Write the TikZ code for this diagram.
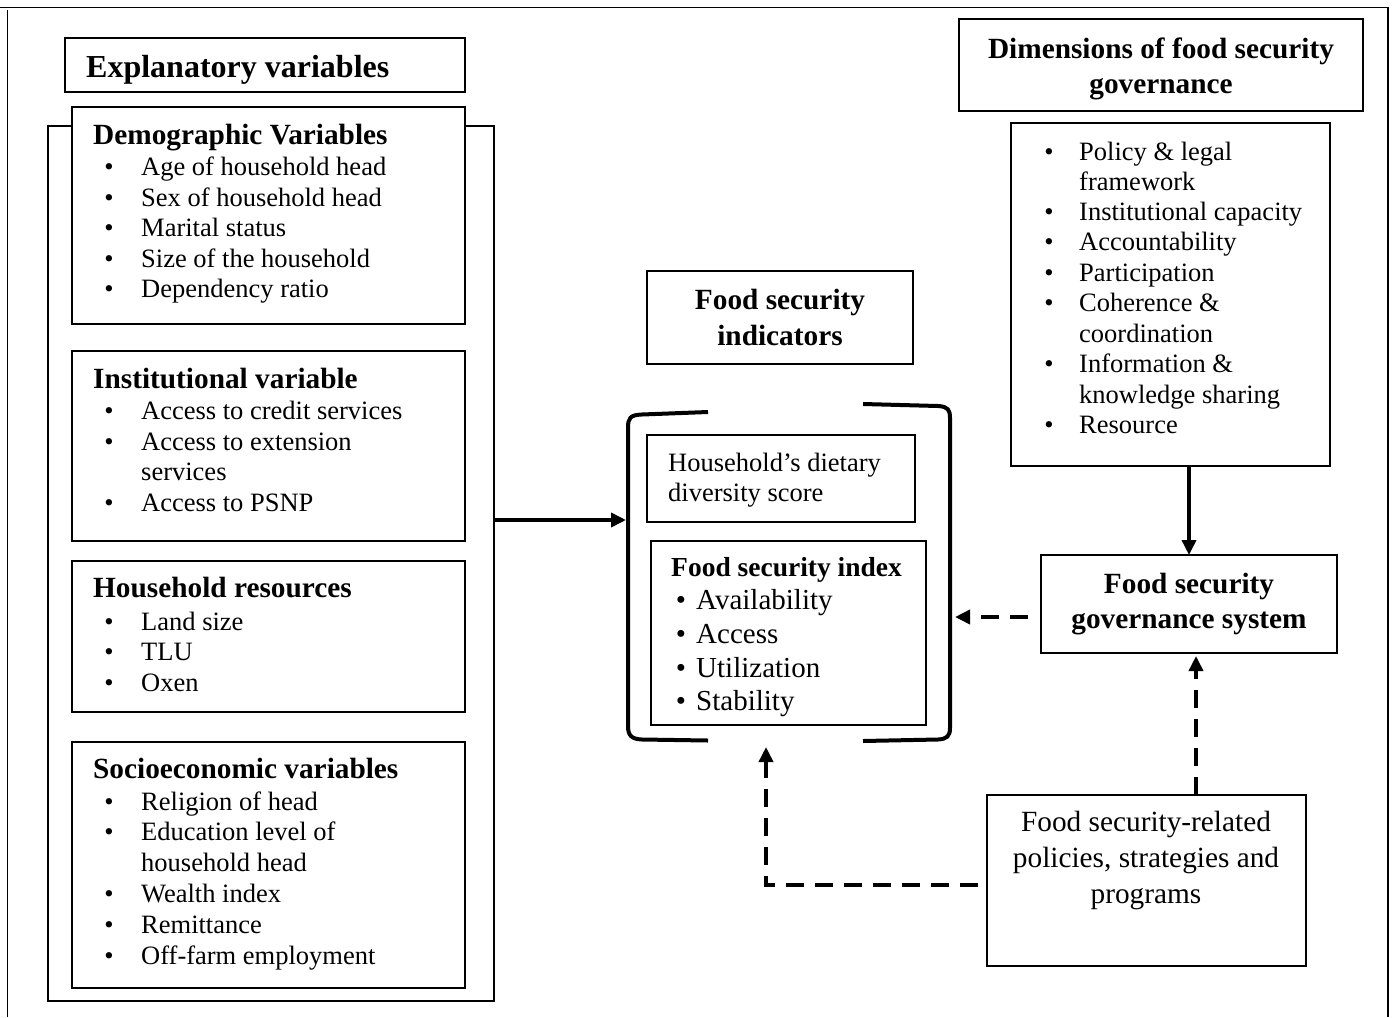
\documentclass[tikz,border=0pt]{standalone}
\usepackage{fontspec}
\setmainfont{Liberation Serif}
\usetikzlibrary{arrows.meta}
\newcommand\fsz[1]{\fontsize{#1pt}{#1pt}\selectfont}
\newcommand\bx[6][]{\node[box,#1,minimum width={(#5-#3)*1pt},minimum height={(#6-#4)*1pt}] (#2) at (#3,#4) {};}
\begin{document}
\begin{tikzpicture}[x=1pt,y=-1pt,
 box/.style={draw, fill=white, anchor=north west, inner sep=0pt, outer sep=0pt, line width=1.5pt},
 thickbox/.style={line width=2.3pt},
 itm/.style={anchor=base west, inner sep=0pt, font=\fsz{26.5}},
 bul/.style={anchor=base, inner sep=0pt, font=\fsz{26.5}},
 hd/.style={anchor=base west, inner sep=0pt, font=\fsz{29.3}\bfseries},
 ctrb/.style={anchor=base, inner sep=0pt, font=\fsz{29.3}\bfseries},
 ctr/.style={anchor=base, inner sep=0pt, font=\fsz{29.3}},
 arr/.style={line width=3.6pt, -{Triangle[length=15pt,width=14pt]}},
 darr/.style={arr, dash pattern=on 18pt off 11pt},
]
\useasboundingbox (0,0) rectangle (1396,1017);
% outer frame
\draw[line width=1.6pt] (0,7.5) -- (1388,7.5) -- (1388,1017);
\draw[line width=1.6pt] (7.5,10) -- (7.5,1017);

% left column
\bx{expl}{65}{38}{465}{92}
\node[anchor=base west, inner sep=0pt, font=\fsz{32}\bfseries] (explt) at (86,77) {Explanatory variables};
\bx{cont}{48}{126}{494}{1001}
\bx[thickbox]{demo}{72}{107}{465}{324}
\bx[thickbox]{inst}{72}{351}{465}{541}
\bx{res}{72}{561}{465}{712}
\bx[line width=1.8pt]{socio}{72}{742}{465}{988}

\node[hd] (demoh) at (93,144) {Demographic Variables};
\foreach \y/\t [count=\i] in {175/Age of household head, 206/Sex of household head, 236/Marital status, 267/Size of the household, 297/Dependency ratio}{
  \node[bul] (demob\i) at (109,\y) {\textbullet};
  \node[itm] (demot\i) at (141,\y) {\t};
}
\node[hd] (insth) at (93,388) {Institutional variable};
\foreach \y/\t [count=\i] in {419/Access to credit services, 450/Access to extension, 511/Access to PSNP}{
  \node[bul] (instb\i) at (109,\y) {\textbullet};
  \node[itm] (instt\i) at (141,\y) {\t};
}
\node[itm] (instc) at (141,480) {services};
\node[hd] (resh) at (93,597) {Household resources};
\foreach \y/\t [count=\i] in {630/Land size, 660/TLU, 691/Oxen}{
  \node[bul] (resb\i) at (109,\y) {\textbullet};
  \node[itm] (rest\i) at (141,\y) {\t};
}
\node[hd] (socioh) at (93,778) {Socioeconomic variables};
\foreach \y/\t [count=\i] in {810/Religion of head, 840/Education level of, 902/Wealth index, 933/Remittance, 964/Off-farm employment}{
  \node[bul] (sociob\i) at (109,\y) {\textbullet};
  \node[itm] (sociot\i) at (141,\y) {\t};
}
\node[itm] (socioc) at (141,871) {household head};

% centre
\bx{ind}{647}{271}{913}{364}
\node[ctrb] (ind1) at (780,309) {Food security};
\node[ctrb] (ind2) at (780,345) {indicators};
\bx{hdds}{647}{435}{915}{522}
\node[itm] (hdds1) at (668,471) {Household’s dietary};
\node[itm] (hdds2) at (668,501) {diversity score};
\bx{fsi}{651}{541}{926}{725}
\node[anchor=base west, inner sep=0pt, font=\fsz{27.5}\bfseries] (fsih) at (671,576) {Food security index};
\foreach \y/\t [count=\i] in {609/Availability, 643/Access, 677/Utilization, 710/Stability}{
  \node[anchor=base, inner sep=0pt, font=\fsz{29}] (fsib\i) at (681,\y) {\textbullet};
  \node[anchor=base west, inner sep=0pt, font=\fsz{29}] (fsit\i) at (696,\y) {\t};
}
% brackets
\draw[line width=4pt] (708,412) -- (642,414.5) .. controls (630,415) and (628,418) .. (628,428) -- (628,726) .. controls (628,736) and (632,739) .. (642,739.5) -- (708,740.5);
\draw[line width=4pt] (863,404) -- (938,406) .. controls (948,406.5) and (950,410) .. (950,418) -- (950,728) .. controls (950,736) and (947,739) .. (938,739.5) -- (863,741);

% right column
\bx{dim}{959}{19}{1363}{111}
\node[ctrb] (dim1) at (1161,58) {Dimensions of food security};
\node[ctrb] (dim2) at (1161,93) {governance};
\bx{dl}{1011}{123}{1330}{466}
\foreach \y/\t [count=\i] in {160/Policy \& legal, 220/Institutional capacity, 250/Accountability, 281/Participation, 311/Coherence \&, 372/Information \&, 433/Resource}{
  \node[bul] (dlb\i) at (1049,\y) {\textbullet};
  \node[itm] (dlt\i) at (1079,\y) {\t};
}
\node[itm] (dlc1) at (1079,190) {framework};
\node[itm] (dlc2) at (1079,342) {coordination};
\node[itm] (dlc3) at (1079,403) {knowledge sharing};

\bx[thickbox]{gov}{1041}{555}{1337}{653}
\node[ctrb] (gov1) at (1189,593) {Food security};
\node[ctrb] (gov2) at (1189,628) {governance system};

\bx{pol}{987}{795}{1306}{966}
\node[ctr] (pol1) at (1146,831) {Food security-related};
\node[ctr] (pol2) at (1146,867) {policies, strategies and};
\node[ctr] (pol3) at (1146,903) {programs};

% connectors
\coordinate (brL) at (626,520);
\draw[arr] (cont.east |- brL) -- (brL);
\draw[arr] (gov.north |- dl.south) -- (gov.north);
\coordinate (gvs) at (1028,617);
\coordinate (brR) at (955,617);
\draw[darr] (gvs) -- (brR);
\coordinate (pv) at (1196,656);
\draw[darr] (pol.north -| pv) -- (pv);
\coordinate (pl) at (978,885);
\coordinate (bb) at (766,747);
\draw[darr] (pl) -| (bb);
\end{tikzpicture}
\end{document}
